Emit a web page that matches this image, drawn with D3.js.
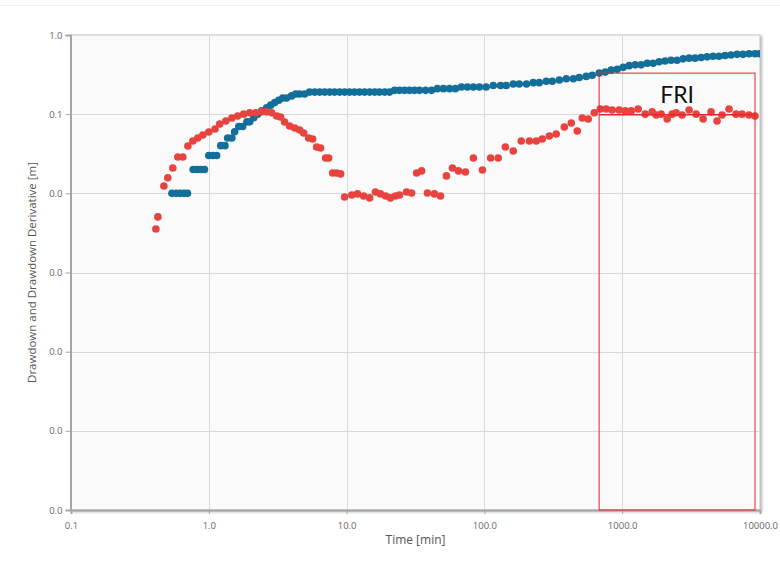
<!DOCTYPE html>
<meta charset="utf-8">
<head>
	<style>
		body {
			margin: 0;
			background: #fff;
			font-family: "Open Sans", Arial, sans-serif;
		}
		svg {
			display: block;
		}
	</style>
	<script src="https://cdn.jsdelivr.net/npm/d3@7/dist/d3.min.js"></script>
</head>
<body>
	<svg id="chart"></svg>
<script>

// drawdown [m] (blue)
let drawdownTime = [0.54, 0.58, 0.62, 0.66, 0.70, 0.77, 0.82, 0.87, 0.93, 1.0, 1.07, 1.14, 1.22, 1.31, 1.37, 1.47, 1.54, 1.65, 1.76, 1.89,
	1.98, 2.12, 2.26, 2.42, 2.63, 2.81, 3.01, 3.22, 3.44, 3.67, 3.99, 4.27, 4.56, 4.96, 5.39, 5.87, 6.37, 6.93, 7.53, 8.18,
	8.90, 9.67, 10.5, 11.4, 12.4, 13.5, 14.7, 16.0, 17.3, 18.9, 20.5, 22.3, 24.2, 26.3, 28.6, 31.1, 33.8, 37.4, 41.3, 45.6,
	50.5, 55.8, 61.6, 68.1, 75.3, 83.2, 92.0, 103, 116, 131, 144, 162, 179, 202, 226, 250, 281, 311, 350, 393,
	442, 488, 548, 606, 681, 753, 832, 920, 1017, 1124, 1243, 1373, 1518, 1677, 1854, 2049, 2265, 2503, 2767, 3058,
	3381, 3736, 4129, 4564, 5045, 5577, 6164, 6813, 7530, 8323, 9200, 9900]
let drawdownValue = [0.01, 0.01, 0.01, 0.01, 0.01, 0.02, 0.02, 0.02, 0.02, 0.03, 0.03, 0.03, 0.04, 0.04, 0.05, 0.05, 0.06, 0.07, 0.07, 0.08,
	0.08, 0.09, 0.10, 0.11, 0.12, 0.13, 0.14, 0.15, 0.16, 0.16, 0.17, 0.18, 0.18, 0.18, 0.19, 0.19, 0.19, 0.19, 0.19, 0.19,
	0.19, 0.19, 0.19, 0.19, 0.19, 0.19, 0.19, 0.19, 0.19, 0.19, 0.19, 0.20, 0.20, 0.20, 0.20, 0.20, 0.20, 0.20, 0.20, 0.21,
	0.21, 0.21, 0.21, 0.22, 0.22, 0.22, 0.22, 0.22, 0.23, 0.23, 0.23, 0.24, 0.24, 0.24, 0.25, 0.25, 0.26, 0.26, 0.27, 0.28,
	0.28, 0.29, 0.30, 0.31, 0.33, 0.34, 0.36, 0.37, 0.39, 0.41, 0.42, 0.42, 0.44, 0.44, 0.46, 0.47, 0.48, 0.48, 0.50, 0.51,
	0.51, 0.52, 0.53, 0.54, 0.54, 0.55, 0.56, 0.57, 0.57, 0.58, 0.58, 0.58]

// drawdown derivative [m] (red)
let derivTime = [0.413, 0.427, 0.472, 0.504, 0.548, 0.596, 0.648, 0.705, 0.766, 0.832, 0.905, 1.0, 1.11, 1.2, 1.33, 1.47, 1.62, 1.79, 1.98, 2.19,
	2.42, 2.63, 2.86, 3.11, 3.32, 3.55, 3.86, 4.2, 4.56, 4.88, 5.3, 5.67, 6.06, 6.48, 7.04, 7.41, 7.92, 8.46, 9.05, 9.67,
	10.9, 12.0, 13.3, 14.7, 16.2, 17.6, 19.2, 20.8, 22.6, 24.2, 27.2, 29.6, 32.2, 35.0, 38.6, 43.4, 48.0, 53.0, 58.6, 64.8,
	72.8, 83.2, 96.7, 111, 126, 142, 162, 185, 212, 238, 263, 296, 332, 380, 427, 472, 513, 567, 627, 693,
	766, 846, 951, 1051, 1162, 1306, 1468, 1650, 1764, 1918, 2120, 2303, 2462, 2721, 3058, 3438, 3864, 4414, 4880, 5304,
	5962, 6701, 7407, 8323, 9200]
let derivValue = [0.00355, 0.00504, 0.0124, 0.0157, 0.0209, 0.0288, 0.0288, 0.0397, 0.0459, 0.0501, 0.0546, 0.0596, 0.065, 0.0752, 0.082, 0.0895, 0.0949, 0.1, 0.104, 0.104,
	0.107, 0.107, 0.104, 0.0949, 0.0922, 0.0797, 0.071, 0.067, 0.0632, 0.0579, 0.0501, 0.0486, 0.0385, 0.0374, 0.028, 0.028, 0.0181, 0.0181, 0.0176, 0.009,
	0.00954, 0.00983, 0.00927, 0.00875, 0.0104, 0.00983, 0.00927, 0.00875, 0.00927, 0.00954, 0.0104, 0.0101, 0.0181, 0.0192, 0.0101, 0.00983, 0.00927, 0.0166, 0.0209, 0.0192,
	0.0186, 0.028, 0.0197, 0.028, 0.028, 0.0385, 0.0343, 0.0459, 0.0459, 0.0459, 0.0486, 0.0531, 0.0562, 0.0689, 0.0774, 0.0614, 0.0895, 0.087, 0.104, 0.116,
	0.116, 0.113, 0.113, 0.110, 0.110, 0.116, 0.1, 0.107, 0.0977, 0.1, 0.087, 0.1, 0.104, 0.0977, 0.113, 0.1, 0.087, 0.107, 0.082, 0.0977,
	0.116, 0.1, 0.1, 0.0977, 0.0949]

let xTicks = [0.1, 1, 10, 100, 1000, 10000]
let yTicks = [1, 0.1, 0.01, 0.001, 0.0001, 0.00001, 0.000001]

// FRI window: time range and top / level of the box
let friTime = [680, 9200]
let friLevel = [0.33, 0.098]

function getConfig() {
	let width = 780
	let height = 571
	let margin = { top: 35, bottom: 61, left: 71, right: 20 }
	let bodyWidth = width - margin.left - margin.right
	let bodyHeight = height - margin.top - margin.bottom

	let container = d3.select("#chart")
		.attr("width", width)
		.attr("height", height)

	return { width, height, margin, bodyWidth, bodyHeight, container }
}

function getScales(config) {
	let { margin, bodyWidth, bodyHeight } = config
	let xScale = d3.scaleLog()
		.domain([0.1, 10000])
		.range([margin.left, margin.left + bodyWidth])
	let yScale = d3.scaleLog()
		.domain([0.000001, 1])
		.range([margin.top + bodyHeight, margin.top])
	return { xScale, yScale }
}

function drawFrame(scales, config) {
	let { container, margin, bodyWidth, bodyHeight, width } = config
	let { xScale, yScale } = scales

	// faint page line at the very top
	container.append("line")
		.attr("x1", 0).attr("x2", width)
		.attr("y1", 5.5).attr("y2", 5.5)
		.attr("stroke", "#efefef")

	let defs = container.append("defs")
	let shadow = defs.append("filter").attr("id", "shadow")
		.attr("x", "-5%").attr("y", "-5%").attr("width", "110%").attr("height", "110%")
	shadow.append("feDropShadow")
		.attr("dx", 1.5).attr("dy", 1.5)
		.attr("stdDeviation", 1.2)
		.attr("flood-color", "#777")
		.attr("flood-opacity", 0.55)

	defs.append("clipPath").attr("id", "plotclip")
		.append("rect")
		.attr("x", margin.left).attr("y", margin.top)
		.attr("width", bodyWidth).attr("height", bodyHeight)

	container.append("rect")
		.attr("x", margin.left).attr("y", margin.top)
		.attr("width", bodyWidth).attr("height", bodyHeight)
		.attr("fill", "#fafafa")
		.attr("stroke", "#c4c4c4")
		.attr("filter", "url(#shadow)")

	let grid = container.append("g")
	grid.selectAll(".vgrid")
		.data(xTicks.slice(1, -1))
		.enter()
		.append("line")
		.attr("x1", d => Math.round(xScale(d)) + 0.5)
		.attr("x2", d => Math.round(xScale(d)) + 0.5)
		.attr("y1", margin.top)
		.attr("y2", margin.top + bodyHeight)
		.attr("stroke", "#d9d9d9")

	grid.selectAll(".hgrid")
		.data(yTicks.slice(1, -1))
		.enter()
		.append("line")
		.attr("x1", margin.left)
		.attr("x2", margin.left + bodyWidth)
		.attr("y1", d => Math.round(yScale(d)) + 0.5)
		.attr("y2", d => Math.round(yScale(d)) + 0.5)
		.attr("stroke", "#d9d9d9")
}

function drawPoints(scales, config) {
	let { container } = config
	let { xScale, yScale } = scales
	let drawdown = drawdownTime.map((t, i) => ({ t: t, v: drawdownValue[i] }))
	let deriv = derivTime.map((t, i) => ({ t: t, v: derivValue[i] }))

	let body = container.append("g").attr("clip-path", "url(#plotclip)")

	body.selectAll(".drawdown")
		.data(drawdown)
		.enter()
		.append("circle")
		.attr("cx", d => xScale(d.t))
		.attr("cy", d => yScale(d.v))
		.attr("r", 3.8)
		.attr("fill", "#136f99")

	body.selectAll(".deriv")
		.data(deriv)
		.enter()
		.append("circle")
		.attr("cx", d => xScale(d.t))
		.attr("cy", d => yScale(d.v))
		.attr("r", 3.8)
		.attr("fill", "#e8433f")
}

function drawAxes(scales, config) {
	let { container, margin, bodyHeight, bodyWidth } = config
	let { xScale, yScale } = scales
	let fmt = d3.format(".1f")

	let axisY = d3.axisLeft(yScale)
		.tickValues(yTicks)
		.tickFormat(fmt)
		.tickSize(5)
		.tickPadding(3)
	let gy = container.append("g")
		.attr("transform", `translate(${margin.left - 0.5},0)`)
		.call(axisY)

	let axisX = d3.axisBottom(xScale)
		.tickValues(xTicks)
		.tickFormat(fmt)
		.tickSize(4)
		.tickPadding(8)
	let gx = container.append("g")
		.attr("transform", `translate(0,${margin.top + bodyHeight})`)
		.call(axisX)

	for (let g of [gy, gx]) {
		g.select(".domain").attr("stroke", "#a6a6a6").attr("stroke-width", 2)
		g.selectAll(".tick line").attr("stroke", "#a6a6a6")
		g.selectAll(".tick text")
			.attr("fill", "#666")
			.style("font-size", "9.5px")
			.style("font-family", "'Open Sans', Arial, sans-serif")
	}

	container.append("text")
		.attr("transform", `translate(36,${margin.top + bodyHeight / 2}) rotate(-90)`)
		.attr("text-anchor", "middle")
		.attr("fill", "#555")
		.style("font-size", "11.5px")
		.text("Drawdown and Drawdown Derivative [m]")

	container.append("text")
		.attr("x", margin.left + bodyWidth / 2)
		.attr("y", 544)
		.attr("text-anchor", "middle")
		.attr("fill", "#555")
		.style("font-size", "12px")
		.text("Time [min]")
}

function drawFri(scales, config) {
	let { container } = config
	let { xScale, yScale } = scales
	let x0 = xScale(friTime[0])
	let x1 = xScale(friTime[1])
	let yTop = yScale(friLevel[0])
	let yBottom = yScale(yTicks[yTicks.length - 1])

	let fri = container.append("g")
	fri.append("rect")
		.attr("x", x0).attr("y", yTop)
		.attr("width", x1 - x0).attr("height", yBottom - yTop)
		.attr("fill", "none")
		.attr("stroke", "#e3262b")
		.attr("stroke-width", 1)
	fri.append("line")
		.attr("x1", x0).attr("x2", x1)
		.attr("y1", yScale(friLevel[1])).attr("y2", yScale(friLevel[1]))
		.attr("stroke", "#e3262b")
		.attr("stroke-width", 1.5)
	fri.append("text")
		.attr("x", (x0 + x1) / 2)
		.attr("y", 103)
		.attr("text-anchor", "middle")
		.attr("fill", "#111")
		.style("font-family", "Lato, 'Open Sans', sans-serif")
		.style("font-size", "23px")
		.text("FRI")
}

function drawChart() {
	let config = getConfig()
	let scales = getScales(config)
	drawFrame(scales, config)
	drawPoints(scales, config)
	drawAxes(scales, config)
	drawFri(scales, config)
}

drawChart()

</script>
</body>
